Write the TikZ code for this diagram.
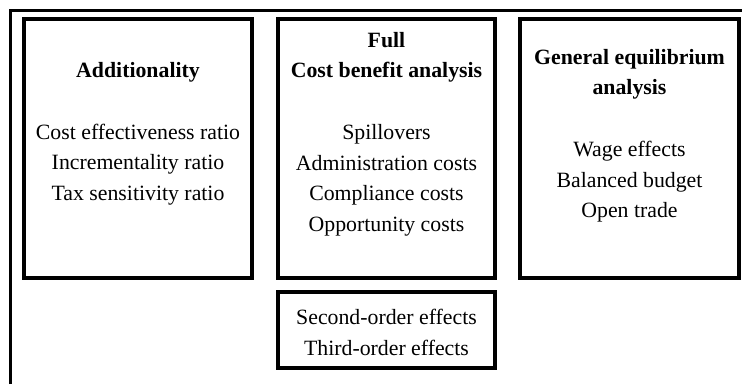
\documentclass[tikz,border=0pt]{standalone}
\usepackage{fontspec}
\setmainfont{Liberation Serif}
\usetikzlibrary{positioning}

\begin{document}
\begin{tikzpicture}[
    x=1pt, y=-1pt,
    font=\fontsize{21.8}{30.5}\selectfont,
    panel/.style={
        rectangle,
        draw=black,
        line width=4pt,
        inner sep=0pt,
        minimum height=259pt
    },
    txt/.style={anchor=north, align=center, inner sep=0pt},
    frame/.style={line width=3pt}
]

\def\xa{138}
\def\xb{386.5}
\def\xc{629.5}
\def\ymid{148.5}

\useasboundingbox (0,0) rectangle (742,384);

% Outer frame (runs off the page at right and bottom)
\draw[frame] (10,384) -- (10,10) -- (742,10);

% Panels
\node[panel, minimum width=228pt] (add) at (\xa, \ymid) {};
\node[panel, minimum width=217pt] (cba) at (\xb, \ymid) {};
\node[panel, minimum width=219pt] (gea) at (\xc, \ymid) {};
\node[panel, minimum width=217pt, minimum height=76pt] (ord) at (\xb, 330) {};

% Panel texts
\node[txt] (addtxt) at (\xa, 62) {\textbf{Additionality}\\[31.5pt]
    Cost effectiveness ratio\\ Incrementality ratio\\ Tax sensitivity ratio};
\node[txt] (cbatxt) at (\xb, 32) {\textbf{Full}\\ \textbf{Cost benefit analysis}\\[31.5pt]
    Spillovers\\ Administration costs\\ Compliance costs\\ Opportunity costs};
\node[txt] (geatxt) at (\xc, 49) {\textbf{General equilibrium}\\ \textbf{analysis}\\[31.5pt]
    Wage effects\\ Balanced budget\\ Open trade};
\node[txt] (ordtxt) at (\xb, 309) {Second-order effects\\ Third-order effects};

\end{tikzpicture}
\end{document}
